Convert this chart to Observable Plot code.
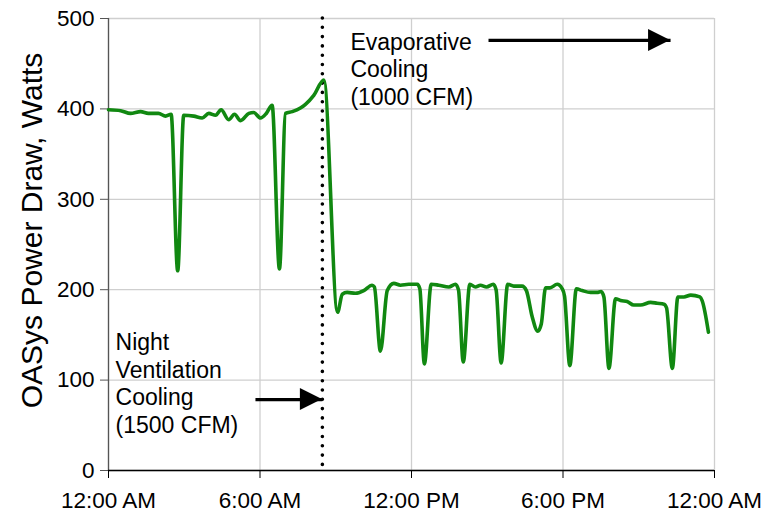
<!DOCTYPE html>
<html><head><meta charset="utf-8">
<script src="https://cdn.jsdelivr.net/npm/d3@7"></script>
<script src="https://cdn.jsdelivr.net/npm/@observablehq/plot@0.6"></script>
<style>body{margin:0;background:#fff}</style>
</head><body><div id="chart"></div>
<script>
const hours = [0.00,0.48,0.87,1.27,1.58,1.98,2.26,2.48,2.74,2.98,3.38,3.71,3.97,4.24,4.46,4.76,4.99,5.23,5.56,5.75,6.02,6.25,6.48,6.77,7.01,7.28,7.60,7.80,8.13,8.53,
  9.07,9.26,9.45,9.78,10.11,10.44,10.53,10.77,11.04,11.30,11.56,11.89,12.23,12.33,12.51,12.78,13.08,13.48,13.74,13.86,14.05,14.31,14.53,14.73,14.97,15.24,15.35,15.55,15.81,16.05,16.38,16.55,16.78,17.00,17.14,17.31,17.48,17.77,17.97,18.06,18.27,18.53,18.76,19.09,19.35,19.51,19.62,19.82,20.08,20.28,20.54,20.80,21.07,21.47,21.73,22.00,22.10,22.33,22.55,22.79,23.06,23.42,23.51,23.76];
const watts = [399,398,395,397,395,395,392,394,221,393,392,390,395,393,399,388,394,387,395,396,390,395,404,223,395,397,401,405,415,432,
  175,195,197,196,199,205,203,132,199,207,205,206,206,201,118,206,205,203,206,200,120,206,203,205,203,206,200,119,206,204,204,199,170,154,162,202,202,206,201,193,116,201,199,197,197,198,192,113,190,188,187,183,183,186,185,184,180,113,192,192,194,192,188,153];

const xTicks = [0, 6, 12, 18, 24];
const xTickLabels = ["12:00 AM", "6:00 AM", "12:00 PM", "6:00 PM", "12:00 AM"];
const yTicks = [0, 100, 200, 300, 400, 500];
const yLabel = "OASys Power Draw, Watts";
const switchHour = [8.47];

const arrowStartX = [15.05, 5.82];
const arrowEndX = [22.26, 8.47];
const arrowYVal = [475.7, 78.5];

const noteTexts = ["Evaporative\nCooling\n(1000 CFM)", "Night\nVentilation\nCooling\n(1500 CFM)"];
const noteX = [9.58, 0.28];
const noteY = [444.7, 97.3];

const series = hours.map((h, i) => ({h, w: watts[i]}));
const arrows = arrowStartX.map((x1, i) => ({x1, x2: arrowEndX[i], y: arrowYVal[i]}));
const notes = noteTexts.map((t, i) => ({t, x: noteX[i], y: noteY[i]}));

const HEAD = 22, HALF = 11;
function arrowHeads(index, scales) {
  const g = d3.create("svg:g");
  for (const a of arrows) {
    const tx = scales.x(a.x2), ty = scales.y(a.y);
    g.append("path")
      .attr("d", `M${tx},${ty}L${tx - HEAD},${ty - HALF}L${tx - HEAD},${ty + HALF}Z`)
      .attr("fill", "black");
  }
  return g.node();
}

const chart = Plot.plot({
  width: 780,
  height: 513,
  marginLeft: 108,
  marginRight: 66,
  marginTop: 18,
  marginBottom: 43,
  style: {fontFamily: "'Liberation Sans', Arial, sans-serif", fontSize: "22.5px", background: "#fff", color: "#000"},
  x: {domain: [0, 24]},
  y: {domain: [0, 500]},
  marks: [
    Plot.gridX(xTicks, {stroke: "#cfcfcf", strokeOpacity: 1, strokeWidth: 1.3}),
    Plot.gridY(yTicks, {stroke: "#cfcfcf", strokeOpacity: 1, strokeWidth: 1.3}),
    Plot.ruleX([0], {stroke: "#555", strokeWidth: 1.3}),
    Plot.ruleY([0], {stroke: "#000", strokeWidth: 1.3}),
    Plot.axisY(yTicks, {tickSize: 8, tickPadding: 6, label: null, stroke: "#555"}),
    Plot.axisX(xTicks, {tickSize: 8, tickPadding: 14, label: null, tickFormat: d => xTickLabels[xTicks.indexOf(d)]}),
    Plot.text([yLabel], {frameAnchor: "left", textAnchor: "middle", rotate: -90, dx: -76, dy: -14, fontSize: 30, fill: "#000"}),
    Plot.ruleX(switchHour, {stroke: "#000", strokeWidth: 3.6, strokeLinecap: "round", strokeDasharray: "0,9.3"}),
    Plot.line(series, {x: "h", y: "w", stroke: "#118811", strokeWidth: 3.6, curve: "monotone-x"}),
    Plot.link(arrows, {x1: "x1", x2: "x2", y1: "y", y2: "y", stroke: "#000", strokeWidth: 3.2}),
    arrowHeads,
    Plot.text(notes, {x: "x", y: "y", text: "t", textAnchor: "start", lineAnchor: "middle", lineHeight: 1.21, fontSize: 23, fill: "#000"})
  ]
});
document.getElementById("chart").appendChild(chart);
</script>
</body></html>
